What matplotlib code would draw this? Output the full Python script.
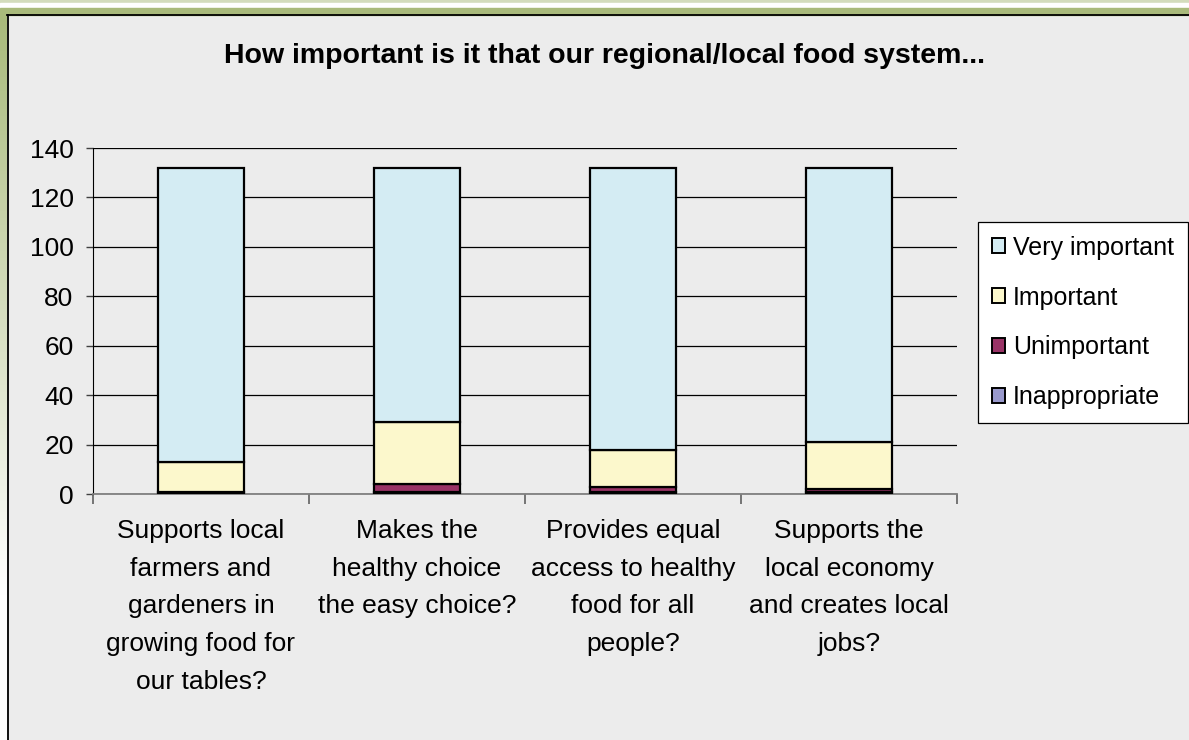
import numpy as np
import matplotlib
matplotlib.use("Agg")
import matplotlib.pyplot as plt
from matplotlib import font_manager
from matplotlib.patches import Rectangle, Patch
from matplotlib.colors import to_rgb

# survey answers per question, bottom of stack first
questions = [
    "Supports local\nfarmers and\ngardeners in\ngrowing food for\nour tables?",
    "Makes the\nhealthy choice\nthe easy choice?",
    "Provides equal\naccess to healthy\nfood for all\npeople?",
    "Supports the\nlocal economy\nand creates local\njobs?",
]
inappropriate = [0, 1, 1, 1]
unimportant = [1, 3, 2, 1]
important = [12, 25, 15, 19]
very_important = [119, 103, 114, 111]

series = [
    ("Inappropriate", inappropriate, "#9999cc"),
    ("Unimportant", unimportant, "#993366"),
    ("Important", important, "#fcf8cc"),
    ("Very important", very_important, "#d4ecf3"),
]
yticks = list(range(0, 141, 20))

# narrow face if we have it, plain Arial-metric otherwise
names = {f.name for f in font_manager.fontManager.ttflist}
if "Liberation Sans Narrow" in names:
    FONT, FS, TFS, LSP = "Liberation Sans Narrow", 22, 24, 1.55
else:
    FONT, FS, TFS, LSP = "Liberation Sans", 19, 20.5, 1.72
plt.rcParams["font.family"] = [FONT, "DejaVu Sans"]

W, H = 1189, 740
fig = plt.figure(figsize=(W / 100, H / 100), dpi=100)

# page background, green header band and left strip
bg = fig.add_axes([0, 0, 1, 1], zorder=-5)
bg.axis("off")
bg.add_patch(Rectangle((0, 0), W, H, color="#ececec", zorder=0))
bg.add_patch(Rectangle((0, 0), W, 3, color="#d3dcbc", zorder=1))
bg.add_patch(Rectangle((0, 3), W, 5, color="white", zorder=1))
bg.add_patch(Rectangle((0, 8), W, 7, color="#a9ba7b", zorder=1))
top_c = np.array(to_rgb("#a9ba7b"))
t = np.clip(np.linspace(0, 1, 200) / 0.8, 0, 1)[:, None]
grad = top_c * (1 - t) + np.ones(3) * t
bg.imshow(grad[:, None, :], extent=(0, 7, H, 15), aspect="auto", zorder=2)
bg.plot([7.5, 7.5], [15, H], color="black", lw=1.3, zorder=3)
bg.plot([7, W], [15, 15], color="black", lw=1.3, zorder=3)
bg.set_xlim(0, W)
bg.set_ylim(H, 0)

ax = fig.add_axes([93 / W, 1 - 494 / H, (957 - 93) / W, (494 - 148) / H])
ax.set_facecolor("none")

x = np.arange(len(questions))
bottom = np.zeros(len(questions))
handles = {}
for name, vals, color in series:
    ax.bar(x, vals, width=0.40, bottom=bottom, color=color,
           edgecolor="black", linewidth=1.6, zorder=3)
    handles[name] = Patch(facecolor=color, edgecolor="black", linewidth=1.4)
    bottom += np.array(vals)

ax.set_xlim(-0.5, len(questions) - 0.5)
ax.set_ylim(0, 140)
ax.set_yticks(yticks)
ax.yaxis.grid(True, color="black", linewidth=0.9)
ax.set_axisbelow(True)
ax.tick_params(axis="y", length=5, width=1, color="#404040", pad=9,
               labelsize=FS)

ax.set_xticks(np.arange(-0.5, len(questions)), labels=[])
ax.set_xticks(x, labels=questions, minor=True)
ax.tick_params(axis="x", which="major", length=7, width=1.2, color="#606060")
ax.tick_params(axis="x", which="minor", length=0, pad=18, labelsize=FS)
for lab in ax.get_xticklabels(minor=True):
    lab.set_linespacing(LSP)

for s in ["top", "right"]:
    ax.spines[s].set_visible(False)
ax.spines["left"].set_color("black")
ax.spines["bottom"].set_color("#808080")
ax.spines["bottom"].set_linewidth(1.3)

order = ["Very important", "Important", "Unimportant", "Inappropriate"]
leg = fig.legend([handles[n] for n in order], order, loc="upper left",
                 bbox_to_anchor=(978 / W, 1 - 222 / H), fontsize=FS - 1,
                 handlelength=0.54, handleheight=0.54, handletextpad=0.3,
                 labelspacing=1.03, borderpad=0.55, borderaxespad=0,
                 fancybox=False, framealpha=1, facecolor="white",
                 edgecolor="black")
leg.get_frame().set_linewidth(0.9)

fig.text(605 / W, 1 - 56 / H,
         "How important is it that our regional/local food system...",
         ha="center", va="center", fontsize=TFS, fontweight="bold")

fig.savefig("out.png", dpi=100)
